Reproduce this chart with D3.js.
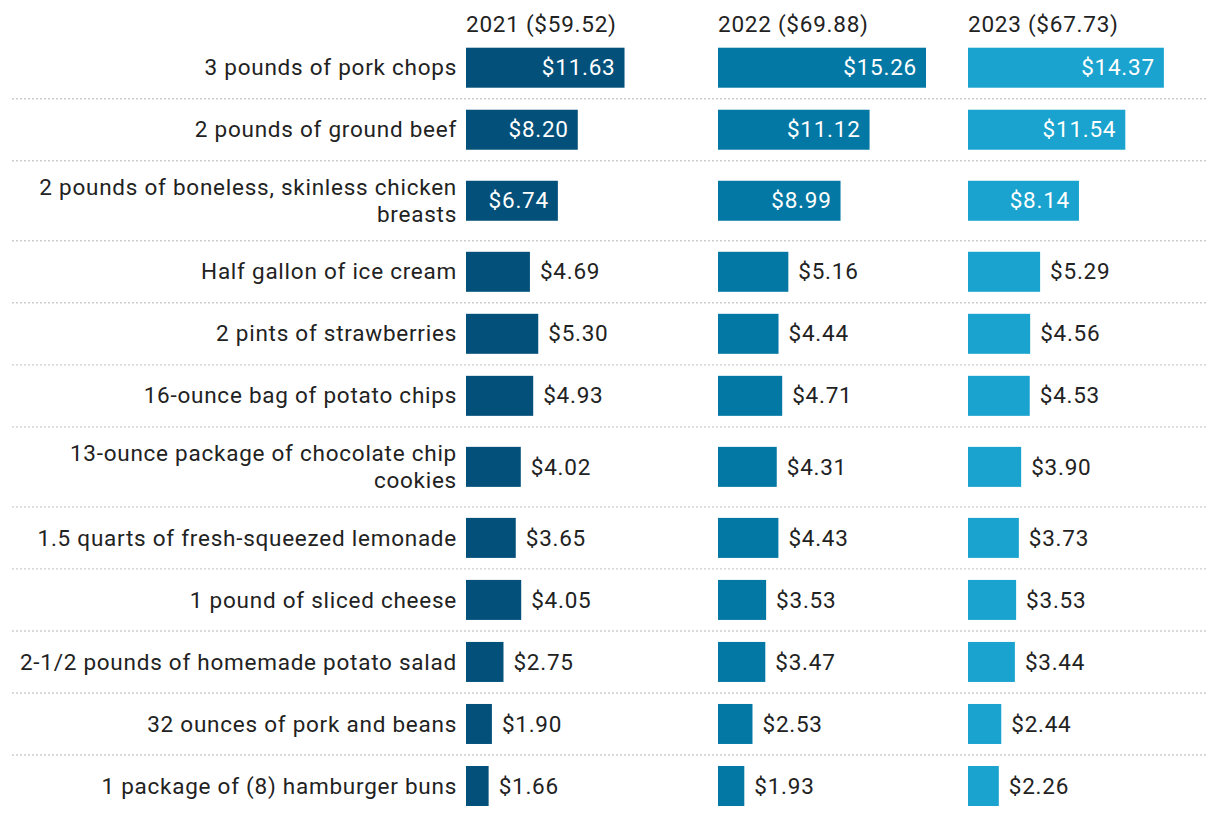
<!DOCTYPE html>
<html>
<head>
<meta charset="utf-8">
<script src="https://cdn.jsdelivr.net/npm/d3@7"></script>
<style>
  html, body { margin: 0; padding: 0; background: #fff; }
  svg { display: block; font-family: Roboto, "Noto Sans", sans-serif; }
</style>
</head>
<body>
<svg id="chart" width="1220" height="816"></svg>
<script>
const categories = [
  "3 pounds of pork chops",
  "2 pounds of ground beef",
  "2 pounds of boneless, skinless chicken|breasts",
  "Half gallon of ice cream",
  "2 pints of strawberries",
  "16-ounce bag of potato chips",
  "13-ounce package of chocolate chip|cookies",
  "1.5 quarts of fresh-squeezed lemonade",
  "1 pound of sliced cheese",
  "2-1/2 pounds of homemade potato salad",
  "32 ounces of pork and beans",
  "1 package of (8) hamburger buns"
];
const years = ["2021", "2022", "2023"];
const totals = ["$59.52", "$69.88", "$67.73"];
const values2021 = [11.63, 8.20, 6.74, 4.69, 5.30, 4.93, 4.02, 3.65, 4.05, 2.75, 1.90, 1.66];
const values2022 = [15.26, 11.12, 8.99, 5.16, 4.44, 4.71, 4.31, 4.43, 3.53, 3.47, 2.53, 1.93];
const values2023 = [14.37, 11.54, 8.14, 5.29, 4.56, 4.53, 3.90, 3.73, 3.53, 3.44, 2.44, 2.26];
const colors = ["#03507a", "#0378a4", "#1aa3ce"];

const series = [values2021, values2022, values2023];
const svg = d3.select("#chart");

const lines = categories.map(c => c.split("|"));
const units = lines.map(l => l.length > 1 ? 80 / 62 : 1);
const cum = [0];
units.forEach(u => cum.push(cum[cum.length - 1] + u));
const y = d3.scaleLinear().domain([0, cum[cum.length - 1]]).range([36.7, 817]);

const panelX = d3.scaleOrdinal().domain(years).range([466, 718, 968]);
const x = d3.scaleLinear().domain([0, 15.26]).range([0, 208]);

const barH = 40;
const fs = 22.5;
const ls = 0.75;

svg.append("g").selectAll("line")
  .data(cum.slice(1, -1))
  .join("line")
  .attr("x1", 12).attr("x2", 1208)
  .attr("y1", d => y(d)).attr("y2", d => y(d))
  .attr("stroke", "#cdcdcd").attr("stroke-width", 1.4)
  .attr("stroke-dasharray", "2,2");

const lab = svg.append("g").selectAll("text")
  .data(lines)
  .join("text")
  .attr("text-anchor", "end")
  .attr("font-size", fs)
  .attr("letter-spacing", ls)
  .attr("fill", "#222");
lab.each(function(l, i) {
  const cy = (y(cum[i]) + y(cum[i + 1])) / 2;
  const lh = 27;
  const t = d3.select(this);
  l.forEach((s, k) => {
    t.append("tspan")
      .attr("x", 457)
      .attr("y", cy + (k - (l.length - 1) / 2) * lh)
      .attr("dy", "0.34em")
      .text(s);
  });
});

svg.append("g").selectAll("text")
  .data(years)
  .join("text")
  .attr("x", d => panelX(d))
  .attr("y", 32)
  .attr("font-size", fs)
  .attr("letter-spacing", ls)
  .attr("fill", "#222")
  .text((d, i) => `${d} (${totals[i]})`);

years.forEach((yr, j) => {
  const g = svg.append("g").attr("transform", `translate(${panelX(yr)},0)`);
  const data = series[j].map((v, i) => ({ v, i }));
  const cy = d => (y(cum[d.i]) + y(cum[d.i + 1])) / 2;
  g.selectAll("rect")
    .data(data)
    .join("rect")
    .attr("x", 0)
    .attr("y", d => cy(d) - barH / 2)
    .attr("width", d => x(d.v))
    .attr("height", barH)
    .attr("fill", colors[j]);
  g.selectAll("text.val")
    .data(data)
    .join("text")
    .attr("class", "val")
    .attr("font-size", fs)
    .attr("letter-spacing", ls)
    .attr("x", d => d.v > 6 ? x(d.v) - 9 : x(d.v) + 10)
    .attr("y", cy)
    .attr("dy", "0.34em")
    .attr("text-anchor", d => d.v > 6 ? "end" : "start")
    .attr("fill", d => d.v > 6 ? "#fff" : "#222")
    .text(d => "$" + d3.format(".2f")(d.v));
});
</script>
</body>
</html>
